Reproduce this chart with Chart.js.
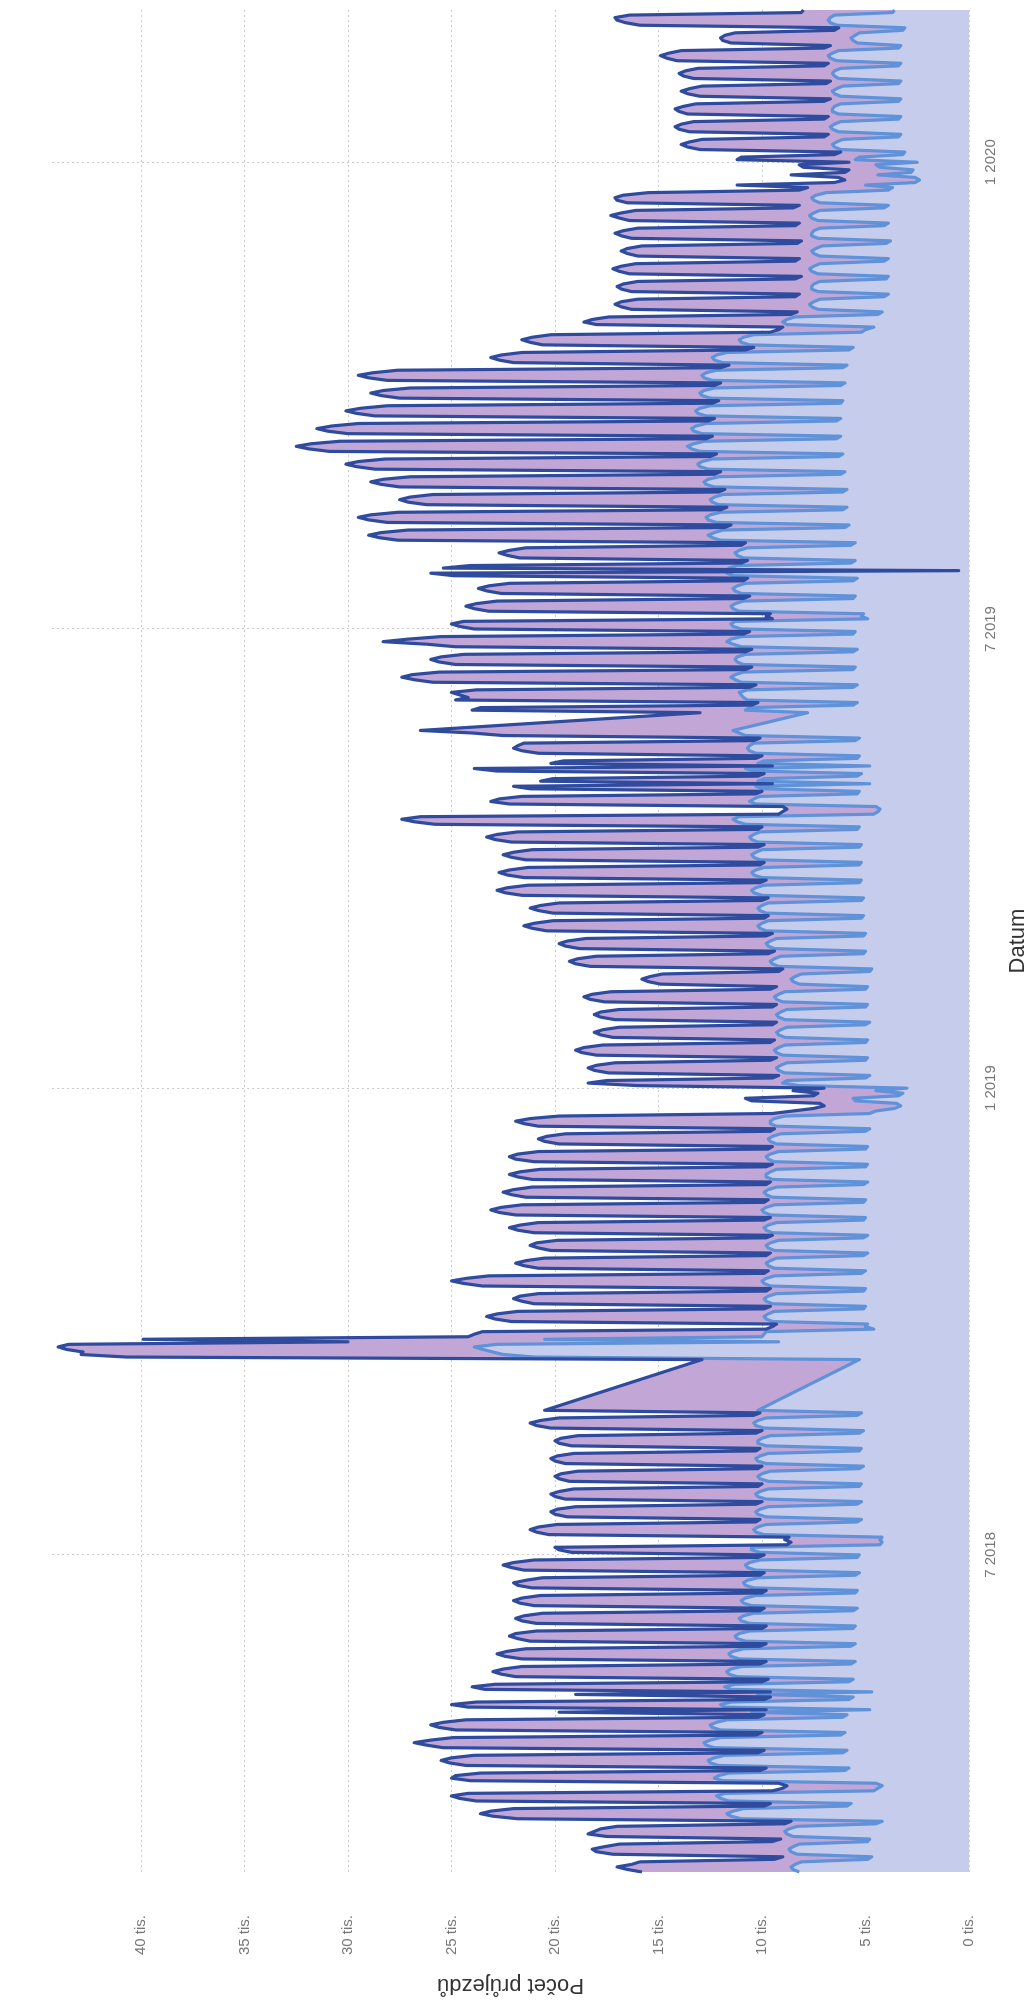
<!DOCTYPE html>
<html>
<head>
<meta charset="utf-8">
<script src="https://cdn.jsdelivr.net/npm/chart.js@4.4.1/dist/chart.umd.min.js"></script>
<style>
  body { margin: 0; background: #fff; overflow: hidden; }
  /* chart is drawn landscape, then turned a quarter to the left like the scan */
  #wrap {
    position: absolute; left: 0; top: 0;
    width: 2000px; height: 1033px;
    transform-origin: 0 0;
    transform: translate(0, 2000px) rotate(-90deg);
  }
</style>
</head>
<body>
<div id="wrap"><canvas id="chart" width="2000" height="1033"></canvas></div>
<script>
// === Data (tisíce průjezdů za den), first day 26.2.2018, one row = one week Po..Ne ===
const startDate = [2018, 1, 26];
const tickMonths = ['01', '07'];
const valueTicks = [0, 5, 10, 15, 20, 25, 30, 35, 40];

const seriesDark = [
  15.8, 16.5, 17.0, 16.3, 15.9, 9.4, 9.0,
  17.2, 18.0, 18.2, 17.6, 16.9, 9.5, 9.1,
  17.5, 18.4, 18.1, 17.8, 17.0, 8.9, 8.6,
  21.8, 23.0, 23.6, 23.1, 22.0, 9.9, 9.6,
  23.8, 24.6, 25.0, 24.2, 9.5, 9.0, 8.8,
  9.2, 24.1, 25.0, 24.8, 23.6, 10.1, 9.8,
  24.3, 25.1, 25.5, 25.0, 23.9, 10.2, 9.9,
  25.4, 26.2, 26.8, 26.0, 24.9, 10.3, 10.0,
  24.8, 25.6, 26.0, 25.4, 24.3, 10.2, 9.9,
  19.8, 9.8, 24.2, 25.0, 23.8, 9.9, 9.6,
  19.0, 9.6, 23.4, 24.0, 22.9, 10.0, 9.7,
  21.9, 22.6, 23.0, 22.5, 21.6, 10.1, 9.8,
  21.6, 22.4, 22.8, 22.3, 21.4, 10.1, 9.8,
  21.2, 21.8, 22.2, 21.9, 20.9, 10.0, 9.8,
  20.9, 21.6, 21.9, 21.5, 20.6, 10.1, 9.9,
  21.0, 21.7, 22.0, 21.6, 20.7, 10.0, 9.8,
  21.1, 21.8, 22.0, 21.4, 20.6, 10.1, 9.9,
  21.5, 22.1, 22.5, 22.0, 21.0, 10.2, 9.9,
  19.2, 19.8, 20.0, 8.8, 8.6, 8.9, 8.7,
  20.3, 20.9, 21.2, 20.8, 19.9, 10.3, 10.1,
  19.4, 20.0, 20.2, 19.9, 19.0, 10.3, 10.0,
  19.5, 20.0, 20.2, 19.8, 19.1, 10.2, 10.0,
  19.3, 19.8, 20.0, 19.7, 18.9, 10.2, 10.0,
  19.5, 20.0, 20.2, 19.9, 19.1, 10.3, 10.1,
  19.2, 19.8, 20.0, 19.7, 18.9, 10.3, 10.0,
  20.2, 20.9, 21.2, 20.7, 19.8, 10.4, 10.1,
  20.5, null, null, null, null, null, null,
  null, null, null, null, null, null, null,
  null, null, null, null, null, null, 12.9,
  40.7, 42.9, 42.8, 43.6, 44.0, 43.5, 30.0,
  39.9, 24.2, 23.9, 23.5, 9.8, 9.5, 9.3,
  22.1, 22.9, 23.3, 22.8, 21.8, 9.9, 9.6,
  21.0, 21.6, 22.0, 21.7, 20.8, 9.8, 9.6,
  23.5, 24.4, 25.0, 24.3, 23.2, 9.9, 9.7,
  20.8, 21.5, 21.9, 21.4, 20.5, 9.8, 9.6,
  20.2, 20.8, 21.2, 20.9, 19.9, 9.8, 9.5,
  21.0, 21.8, 22.2, 21.7, 20.8, 9.9, 9.6,
  21.9, 22.7, 23.1, 22.6, 21.6, 9.9, 9.7,
  21.4, 22.1, 22.5, 22.0, 21.1, 9.8, 9.6,
  21.1, 21.8, 22.2, 21.7, 20.7, 9.8, 9.5,
  21.0, 21.9, 22.2, 21.8, 20.8, 9.7, 9.5,
  19.8, 20.5, 20.8, 20.4, 19.5, 9.6, 9.4,
  20.8, 21.5, 21.9, 21.2, 19.8, 9.5, 8.5,
  7.5, 7.0, 7.2, 10.5, 10.8, 7.5, 7.3,
  8.5, 7.0, 16.0, 18.4, 17.5, 9.5, 9.2,
  17.4, 18.1, 18.4, 18.0, 17.1, 9.6, 9.3,
  18.0, 18.7, 19.0, 18.6, 17.7, 9.6, 9.4,
  17.2, 17.8, 18.1, 17.7, 16.9, 9.5, 9.3,
  17.1, 17.8, 18.1, 17.8, 16.9, 9.5, 9.3,
  17.6, 18.3, 18.6, 18.2, 17.3, 9.6, 9.3,
  14.9, 15.5, 15.8, 15.4, 14.8, 9.2, 9.0,
  18.3, 19.0, 19.3, 18.9, 18.0, 9.7, 9.4,
  18.8, 19.5, 19.8, 19.4, 18.5, 9.8, 9.5,
  20.4, 21.1, 21.5, 21.0, 20.1, 9.9, 9.7,
  20.1, 20.8, 21.2, 20.7, 19.8, 10.0, 9.7,
  21.6, 22.4, 22.8, 22.3, 21.3, 10.1, 9.8,
  21.5, 22.3, 22.7, 22.2, 21.3, 10.1, 9.9,
  21.4, 22.1, 22.5, 22.0, 21.1, 10.2, 9.9,
  22.1, 22.9, 23.3, 22.8, 21.8, 10.2, 10.0,
  25.8, 26.8, 27.4, 26.5, 9.2, 9.0, 8.8,
  9.0, 22.2, 23.1, 22.7, 21.6, 10.3, 10.0,
  21.2, 22.0, 9.5, 20.7, 20.1, 10.2, 9.9,
  22.8, 23.9, 9.5, 20.2, 19.6, 10.3, 10.0,
  20.8, 21.6, 22.0, 21.8, 21.5, 10.4, 10.1,
  22.5, 24.0, 26.5, null, null, null, null,
  null, null, 13.0, 24.0, 23.6, 10.5, 10.2,
  24.8, 24.2, 24.6, 25.0, 23.8, 10.6, 10.3,
  25.9, 26.8, 27.4, 26.9, 25.6, 10.8, 10.5,
  24.8, 25.6, 26.0, 25.5, 24.4, 10.8, 10.5,
  24.8, 26.2, 28.3, 27.1, 25.5, 10.9, 10.6,
  23.9, 24.6, 25.0, 24.4, 9.5, 9.8, 9.6,
  23.2, 23.9, 24.3, 23.8, 22.8, 10.9, 10.6,
  22.6, 23.3, 23.7, 23.2, 22.2, 10.9, 10.7,
  24.9, 26.0, 0.5, 25.4, 24.1, 11.0, 10.7,
  21.7, 22.3, 22.7, 22.2, 21.4, 11.0, 10.8,
  27.6, 28.5, 29.0, 28.4, 27.1, 11.8, 11.5,
  28.1, 29.0, 29.5, 28.9, 27.6, 12.0, 11.7,
  26.2, 27.1, 27.5, 27.0, 25.9, 12.1, 11.8,
  27.5, 28.4, 28.9, 28.3, 27.0, 12.3, 12.0,
  28.7, 29.6, 30.1, 29.5, 28.2, 12.5, 12.2,
  30.9, 31.9, 32.5, 31.8, 30.4, 12.7, 12.4,
  30.0, 31.0, 31.5, 30.8, 29.5, 12.6, 12.3,
  28.7, 29.6, 30.1, 29.4, 28.1, 12.4, 12.1,
  27.5, 28.4, 28.9, 28.3, 27.0, 12.3, 12.0,
  28.1, 29.0, 29.5, 28.8, 27.6, 12.0, 11.6,
  22.0, 22.7, 23.1, 22.6, 21.6, 10.8, 10.4,
  20.6, 21.2, 21.6, 21.1, 20.2, 9.6, 9.2,
  9.0, 18.0, 18.6, 18.2, 17.4, 8.6, 8.3,
  16.3, 16.8, 17.1, 16.8, 16.0, 8.4, 8.2,
  16.3, 16.8, 17.0, 16.7, 16.0, 8.4, 8.1,
  16.4, 16.9, 17.2, 16.8, 16.1, 8.4, 8.2,
  16.0, 16.5, 16.8, 16.5, 15.8, 8.3, 8.1,
  16.3, 16.8, 17.1, 16.7, 16.0, 8.4, 8.2,
  16.4, 16.9, 17.3, 16.8, 16.1, 8.5, 8.2,
  16.5, 17.0, 17.1, 16.7, 15.5, 8.2, 7.8,
  11.2, 6.5, 6.0, 6.3, 8.6, 6.0, 5.8,
  8.0, 8.2, 5.8, 11.2, 11.0, 6.5, 6.2,
  13.0, 13.6, 13.9, 13.5, 12.9, 7.0, 6.8,
  13.5, 14.0, 14.2, 13.9, 13.3, 7.0, 6.8,
  13.6, 14.0, 14.2, 13.8, 13.2, 7.0, 6.7,
  13.0, 13.6, 13.9, 13.5, 12.9, 6.9, 6.7,
  13.3, 13.8, 14.0, 13.7, 13.1, 7.0, 6.8,
  14.1, 14.6, 14.9, 14.5, 13.9, 7.0, 6.7,
  11.5, 11.9, 12.0, 11.8, 11.3, 6.5, 6.3,
  15.9, 16.6, 17.0, 17.1, 16.4, 8.1, 8.0
];

const seriesLight = [
  8.2, 8.5, 8.6, 8.4, 8.1, 4.9, 4.7,
  8.3, 8.6, 8.7, 8.5, 8.2, 4.9, 4.8,
  8.5, 8.8, 8.9, 8.7, 8.3, 4.5, 4.2,
  11.0, 11.5, 11.7, 11.4, 10.9, 5.9, 5.7,
  11.6, 12.0, 12.2, 11.8, 4.6, 4.4, 4.2,
  4.5, 11.9, 12.3, 12.1, 11.6, 6.0, 5.8,
  12.1, 12.5, 12.6, 12.3, 11.8, 6.1, 5.9,
  12.3, 12.7, 12.8, 12.5, 12.0, 6.2, 6.0,
  12.0, 12.4, 12.5, 12.2, 11.7, 6.1, 5.9,
  10.5, 4.8, 11.8, 12.0, 11.5, 5.8, 5.6,
  10.2, 4.7, 11.5, 11.8, 11.3, 5.8, 5.6,
  11.2, 11.6, 11.7, 11.5, 11.0, 5.7, 5.5,
  11.1, 11.5, 11.6, 11.4, 10.9, 5.7, 5.5,
  10.8, 11.2, 11.3, 11.1, 10.6, 5.6, 5.5,
  10.6, 11.0, 11.1, 10.9, 10.4, 5.6, 5.4,
  10.5, 10.9, 11.0, 10.8, 10.3, 5.5, 5.4,
  10.4, 10.8, 10.9, 10.7, 10.2, 5.5, 5.3,
  10.3, 10.7, 10.8, 10.6, 10.1, 5.4, 5.3,
  10.1, 10.5, 10.5, 4.3, 4.2, 4.3, 4.2,
  9.9, 10.3, 10.4, 10.2, 9.8, 5.4, 5.2,
  9.8, 10.2, 10.3, 10.1, 9.7, 5.4, 5.2,
  9.8, 10.2, 10.3, 10.1, 9.7, 5.3, 5.2,
  9.7, 10.1, 10.2, 10.0, 9.6, 5.3, 5.1,
  9.8, 10.2, 10.3, 10.1, 9.7, 5.3, 5.2,
  9.8, 10.2, 10.2, 10.0, 9.6, 5.3, 5.1,
  9.9, 10.3, 10.4, 10.2, 9.8, 5.4, 5.2,
  10.2, null, null, null, null, null, null,
  null, null, null, null, null, null, null,
  null, null, null, null, null, null, 5.3,
  21.0, 22.5, 23.0, 23.5, 23.9, 22.8, 9.2,
  20.5, 10.0, 9.9, 9.8, 4.6, 5.0, 4.9,
  9.5, 9.8, 9.9, 9.7, 9.4, 5.1, 5.0,
  9.5, 9.8, 9.9, 9.7, 9.3, 5.1, 5.0,
  9.6, 9.9, 10.0, 9.8, 9.4, 5.2, 5.0,
  9.4, 9.7, 9.8, 9.6, 9.3, 5.1, 4.9,
  9.4, 9.7, 9.8, 9.6, 9.2, 5.1, 4.9,
  9.5, 9.8, 9.9, 9.7, 9.3, 5.1, 5.0,
  9.6, 9.9, 10.0, 9.8, 9.4, 5.1, 5.0,
  9.5, 9.8, 9.9, 9.7, 9.3, 5.1, 4.9,
  9.5, 9.8, 9.8, 9.6, 9.3, 5.0, 4.9,
  9.4, 9.7, 9.8, 9.6, 9.2, 5.0, 4.9,
  9.3, 9.6, 9.7, 9.5, 9.1, 5.0, 4.8,
  9.3, 9.6, 9.6, 9.4, 8.9, 4.8, 4.5,
  3.6, 3.3, 3.5, 5.5, 5.6, 3.4, 3.2,
  4.5, 3.0, 8.2, 9.0, 8.8, 5.0, 4.8,
  8.9, 9.2, 9.3, 9.1, 8.8, 5.0, 4.9,
  9.0, 9.3, 9.4, 9.2, 8.9, 5.0, 4.9,
  8.9, 9.2, 9.3, 9.1, 8.8, 5.0, 4.8,
  8.9, 9.2, 9.3, 9.1, 8.8, 5.0, 4.9,
  9.0, 9.3, 9.4, 9.2, 8.9, 5.0, 4.9,
  8.2, 8.5, 8.6, 8.4, 8.1, 4.8, 4.7,
  9.2, 9.5, 9.6, 9.4, 9.1, 5.1, 5.0,
  9.4, 9.7, 9.8, 9.6, 9.3, 5.1, 5.0,
  9.8, 10.1, 10.2, 10.0, 9.7, 5.2, 5.1,
  9.8, 10.1, 10.2, 10.0, 9.7, 5.2, 5.1,
  10.0, 10.4, 10.5, 10.3, 9.9, 5.3, 5.2,
  10.0, 10.4, 10.5, 10.3, 9.9, 5.3, 5.2,
  10.1, 10.4, 10.5, 10.3, 10.0, 5.3, 5.2,
  10.2, 10.5, 10.6, 10.4, 10.1, 5.4, 5.3,
  10.8, 11.2, 11.4, 11.1, 4.6, 4.4, 4.3,
  4.5, 10.3, 10.6, 10.4, 10.1, 5.4, 5.3,
  10.0, 10.3, 4.8, 10.2, 9.9, 5.4, 5.2,
  10.4, 10.8, 4.8, 10.2, 9.9, 5.4, 5.3,
  10.3, 10.6, 10.7, 10.6, 10.4, 5.5, 5.3,
  10.8, 11.1, 11.4, null, null, null, null,
  null, null, 7.8, 10.8, 10.6, 5.6, 5.4,
  10.7, 10.9, 11.0, 11.1, 10.7, 5.6, 5.4,
  11.0, 11.3, 11.5, 11.3, 10.9, 5.6, 5.5,
  10.9, 11.2, 11.3, 11.2, 10.8, 5.6, 5.4,
  11.0, 11.4, 11.7, 11.5, 11.0, 5.6, 5.5,
  11.0, 11.4, 11.5, 11.3, 4.9, 5.2, 5.1,
  11.1, 11.4, 11.5, 11.3, 10.9, 5.6, 5.5,
  11.0, 11.3, 11.4, 11.2, 10.8, 5.6, 5.4,
  11.4, 11.7, 11.2, 11.6, 11.2, 5.7, 5.5,
  10.9, 11.2, 11.3, 11.1, 10.7, 5.7, 5.5,
  12.0, 12.4, 12.6, 12.3, 11.9, 6.0, 5.8,
  12.2, 12.6, 12.7, 12.5, 12.0, 6.1, 5.9,
  12.1, 12.4, 12.5, 12.3, 11.9, 6.1, 5.9,
  12.3, 12.7, 12.8, 12.6, 12.1, 6.2, 6.0,
  12.6, 13.0, 13.1, 12.9, 12.4, 6.3, 6.1,
  13.0, 13.4, 13.6, 13.3, 12.8, 6.4, 6.2,
  12.9, 13.3, 13.4, 13.2, 12.7, 6.4, 6.2,
  12.7, 13.1, 13.2, 13.0, 12.5, 6.2, 6.1,
  12.5, 12.9, 13.0, 12.8, 12.3, 6.2, 6.0,
  12.4, 12.8, 12.9, 12.7, 12.2, 6.1, 5.9,
  11.9, 12.3, 12.4, 12.2, 11.7, 5.8, 5.6,
  10.6, 11.0, 11.1, 10.9, 10.4, 5.2, 5.0,
  4.6, 8.8, 9.0, 8.8, 8.4, 4.4, 4.2,
  7.3, 7.6, 7.7, 7.5, 7.2, 4.1, 3.9,
  7.3, 7.6, 7.6, 7.5, 7.2, 4.0, 3.9,
  7.3, 7.6, 7.7, 7.5, 7.2, 4.1, 3.9,
  7.2, 7.5, 7.6, 7.4, 7.1, 4.0, 3.8,
  7.3, 7.6, 7.6, 7.5, 7.2, 4.1, 3.9,
  7.3, 7.6, 7.7, 7.5, 7.2, 4.1, 3.9,
  7.2, 7.5, 7.6, 7.4, 6.9, 3.9, 3.7,
  5.0, 2.6, 2.4, 2.6, 4.4, 2.8, 2.7,
  4.3, 4.5, 2.5, 5.5, 5.3, 3.2, 3.1,
  6.2, 6.5, 6.6, 6.4, 6.1, 3.4, 3.3,
  6.3, 6.6, 6.7, 6.5, 6.2, 3.4, 3.3,
  6.3, 6.6, 6.6, 6.5, 6.2, 3.4, 3.3,
  6.2, 6.5, 6.6, 6.4, 6.1, 3.4, 3.3,
  6.3, 6.5, 6.6, 6.5, 6.2, 3.4, 3.3,
  6.4, 6.7, 6.8, 6.6, 6.3, 3.4, 3.3,
  5.4, 5.6, 5.7, 5.5, 5.3, 3.2, 3.1,
  6.4, 6.7, 6.8, 6.7, 6.5, 3.7, 3.6
];

// daily dates as category labels
const labels = [];
for (let i = 0; i < seriesDark.length; i++) {
  const d = new Date(Date.UTC(startDate[0], startDate[1], startDate[2] + i));
  labels.push(d.toISOString().slice(0, 10));
}

const FONT = "Arial, 'Liberation Sans', sans-serif";
const gridDots = { color: '#cbcbcb', lineWidth: 1, drawTicks: false };

new Chart(document.getElementById('chart'), {
  type: 'line',
  data: {
    labels: labels,
    datasets: [{
      label: 'celkem',
      data: seriesDark,
      borderColor: '#2f4b9e',
      backgroundColor: '#c2a7d6',
      borderWidth: 3.2,
      fill: '+1',
      pointRadius: 0,
      spanGaps: true,
      borderJoinStyle: 'round'
    }, {
      label: 'část',
      data: seriesLight,
      borderColor: '#5f92d8',
      backgroundColor: '#c6cdec',
      borderWidth: 3.2,
      fill: 'origin',
      pointRadius: 0,
      spanGaps: true,
      borderJoinStyle: 'round'
    }]
  },
  options: {
    responsive: false,
    devicePixelRatio: 1,
    animation: false,
    layout: { padding: { top: 4, right: 10, left: 0, bottom: 0 } },
    plugins: {
      legend: { display: false },
      tooltip: { enabled: false },
      filler: { drawTime: 'beforeDatasetsDraw' }
    },
    scales: {
      x: {
        type: 'category',
        grid: { ...gridDots, offset: false },
        border: { display: false, dash: [2, 3] },
        afterBuildTicks: axis => {
          axis.ticks = axis.ticks.filter(t => {
            const s = labels[t.value];
            return s.endsWith('-01') && tickMonths.includes(s.slice(5, 7));
          });
        },
        afterFit: axis => { axis.height = 64; },
        ticks: {
          autoSkip: false,
          maxRotation: 0,
          padding: 13,
          color: '#777',
          font: { family: FONT, size: 15 },
          callback: v => {
            const s = labels[v];
            return parseInt(s.slice(5, 7), 10) + ' ' + s.slice(0, 4);
          }
        },
        title: {
          display: true,
          text: 'Datum',
          color: '#333',
          font: { family: FONT, size: 22 },
          padding: { top: 0, bottom: 2 }
        }
      },
      y: {
        min: 0,
        max: 44.3,
        grid: gridDots,
        border: { display: false, dash: [2, 3] },
        afterBuildTicks: axis => {
          axis.ticks = valueTicks.map(v => ({ value: v }));
        },
        afterFit: axis => { axis.width = 128; },
        ticks: {
          padding: 43,
          color: '#777',
          font: { family: FONT, size: 15 },
          callback: v => v + ' tis.'
        },
        title: {
          display: true,
          text: 'Počet průjezdů',
          color: '#333',
          font: { family: FONT, size: 22 },
          padding: { top: 2, bottom: 0 }
        }
      }
    }
  }
});
</script>
</body>
</html>
